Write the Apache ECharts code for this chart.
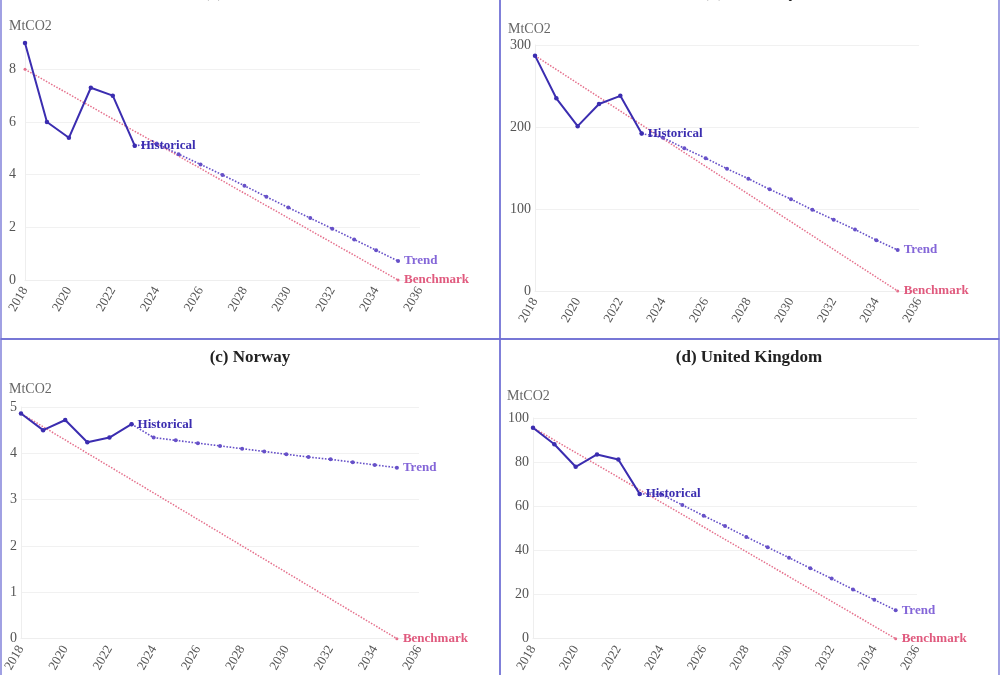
<!DOCTYPE html>
<html>
<head>
<meta charset="utf-8">
<script src="https://cdn.jsdelivr.net/npm/echarts@6/dist/echarts.min.js"></script>
<style>
html, body { margin: 0; padding: 0; background: #fff; }
#main { width: 1000px; height: 675px; }
</style>
</head>
<body>
<div id="main"></div>
<script>
var histYears = [2018, 2019, 2020, 2021, 2022, 2023];
var trendYears = [2023, 2024, 2025, 2026, 2027, 2028, 2029, 2030, 2031, 2032, 2033, 2034, 2035];
var benchYears = [2018, 2035];

var dkHist = [9.0, 6.0, 5.4, 7.3, 7.0, 5.1];
var dkTrend = [5.1, 5.18, 4.78, 4.39, 3.99, 3.58, 3.16, 2.75, 2.35, 1.95, 1.54, 1.13, 0.72];
var dkBench = [8.0, 0];

var deHist = [287, 235, 201, 228, 238, 192];
var deTrend = [192, 187, 174, 162, 149, 137, 124, 112, 99, 87, 75, 62, 50];
var deBench = [287, 0];

var noHist = [4.86, 4.50, 4.72, 4.24, 4.34, 4.63];
var noTrend = [4.63, 4.34, 4.28, 4.22, 4.16, 4.10, 4.04, 3.98, 3.92, 3.87, 3.81, 3.75, 3.69];
var noBench = [4.86, 0];

var ukHist = [95.6, 88.1, 77.9, 83.5, 81.2, 65.6];
var ukTrend = [65.6, 65.4, 60.6, 55.7, 51.0, 46.1, 41.4, 36.7, 31.9, 27.2, 22.3, 17.6, 12.9];
var ukBench = [95.6, 0];

var panelTitles = ['(a) Denmark', '(b) Germany', '(c) Norway', '(d) United Kingdom'];
var yMax = [9, 300, 5, 100];
var yStep = [2, 100, 1, 20];

var histData = [dkHist, deHist, noHist, ukHist];
var trendData = [dkTrend, deTrend, noTrend, ukTrend];
var benchData = [dkBench, deBench, noBench, ukBench];

// panel placement in pixels
var grids = [
    { left: 25, top: 43, width: 395, height: 237 },
    { left: 535, top: 45, width: 384, height: 246 },
    { left: 21, top: 407, width: 398, height: 242 },
    { left: 533, top: 418, width: 384, height: 233 }
];
var labelMargin = [9, 4, 4, 4];
var titlePos = [[250, -16], [750, -16], [250, 349], [749, 349]];
var unitPos = [[9, 19], [508, 22], [9, 382], [507, 389]];
var boxes = [[1, -20, 499, 359], [500, -20, 499, 359], [1, 339, 499, 360], [500, 339, 499, 360]];

var serif = 'Liberation Serif';
var cHist = '#3b2db0';
var cTrend = '#6650c8';
var cTrendLabel = '#8466d8';
var cBench = '#e5708c';
var cBenchLabel = '#e05a7e';

function pairs(xs, ys) {
    return xs.map(function (x, i) { return [x, ys[i]]; });
}

var option = {
    animation: false,
    backgroundColor: '#fff',
    title: [],
    grid: [],
    xAxis: [],
    yAxis: [],
    series: [],
    graphic: []
};

for (var i = 0; i < 4; i++) {
    option.title.push({
        text: panelTitles[i],
        left: titlePos[i][0],
        top: titlePos[i][1],
        padding: 0,
        textAlign: 'center',
        textStyle: { fontFamily: serif, fontWeight: 'bold', fontSize: 17, color: '#222' }
    });
    option.title.push({
        text: 'MtCO2',
        left: unitPos[i][0],
        top: unitPos[i][1],
        padding: 0,
        textStyle: { fontFamily: serif, fontWeight: 'normal', fontSize: 14, color: '#666' }
    });
    option.grid.push(grids[i]);
    option.xAxis.push({
        type: 'value',
        gridIndex: i,
        min: 2018,
        max: 2036,
        interval: 2,
        axisLine: { show: true, lineStyle: { color: '#eeeeee' } },
        axisTick: { show: false },
        splitLine: { show: false },
        axisLabel: {
            rotate: 60,
            margin: 8,
            fontFamily: serif,
            fontSize: 13,
            color: '#555',
            formatter: function (v) { return String(v); }
        }
    });
    option.yAxis.push({
        type: 'value',
        gridIndex: i,
        min: 0,
        max: yMax[i],
        interval: yStep[i],
        axisLine: { show: true, lineStyle: { color: '#eeeeee' } },
        axisTick: { show: false },
        splitLine: { show: true, showMaxLine: i !== 0, lineStyle: { color: '#f1f1f1' } },
        axisLabel: {
            showMaxLabel: i !== 0,
            margin: labelMargin[i],
            fontFamily: serif,
            fontSize: 14,
            color: '#555'
        }
    });
    option.series.push({
        name: 'Benchmark',
        type: 'line',
        xAxisIndex: i,
        yAxisIndex: i,
        data: pairs(benchYears, benchData[i]),
        symbol: 'circle',
        symbolSize: 3,
        itemStyle: { color: cBench },
        lineStyle: { color: cBench, width: 1.5, type: 'dotted' },
        z: 2,
        endLabel: {
            show: true,
            formatter: 'Benchmark',
            distance: 6,
            fontFamily: serif,
            fontWeight: 'bold',
            fontSize: 13,
            color: cBenchLabel
        }
    });
    option.series.push({
        name: 'Trend',
        type: 'line',
        xAxisIndex: i,
        yAxisIndex: i,
        data: pairs(trendYears, trendData[i]),
        symbol: 'circle',
        symbolSize: 4,
        itemStyle: { color: cTrend },
        lineStyle: { color: cTrend, width: 1.6, type: 'dotted' },
        z: 3,
        endLabel: {
            show: true,
            formatter: 'Trend',
            distance: 6,
            fontFamily: serif,
            fontWeight: 'bold',
            fontSize: 13,
            color: cTrendLabel
        }
    });
    option.series.push({
        name: 'Historical',
        type: 'line',
        xAxisIndex: i,
        yAxisIndex: i,
        data: pairs(histYears, histData[i]),
        symbol: 'circle',
        symbolSize: 4.5,
        itemStyle: { color: cHist },
        lineStyle: { color: cHist, width: 2 },
        z: 4,
        endLabel: {
            show: true,
            formatter: 'Historical',
            distance: 6,
            fontFamily: serif,
            fontWeight: 'bold',
            fontSize: 13,
            color: cHist
        }
    });
    option.graphic.push({
        type: 'rect',
        shape: { x: boxes[i][0], y: boxes[i][1], width: boxes[i][2], height: boxes[i][3] },
        style: { fill: 'none', stroke: '#6f6fd4', lineWidth: 1.3 },
        silent: true,
        z: 10
    });
}

var myChart = echarts.init(document.getElementById('main'));
myChart.setOption(option);
</script>
</body>
</html>
